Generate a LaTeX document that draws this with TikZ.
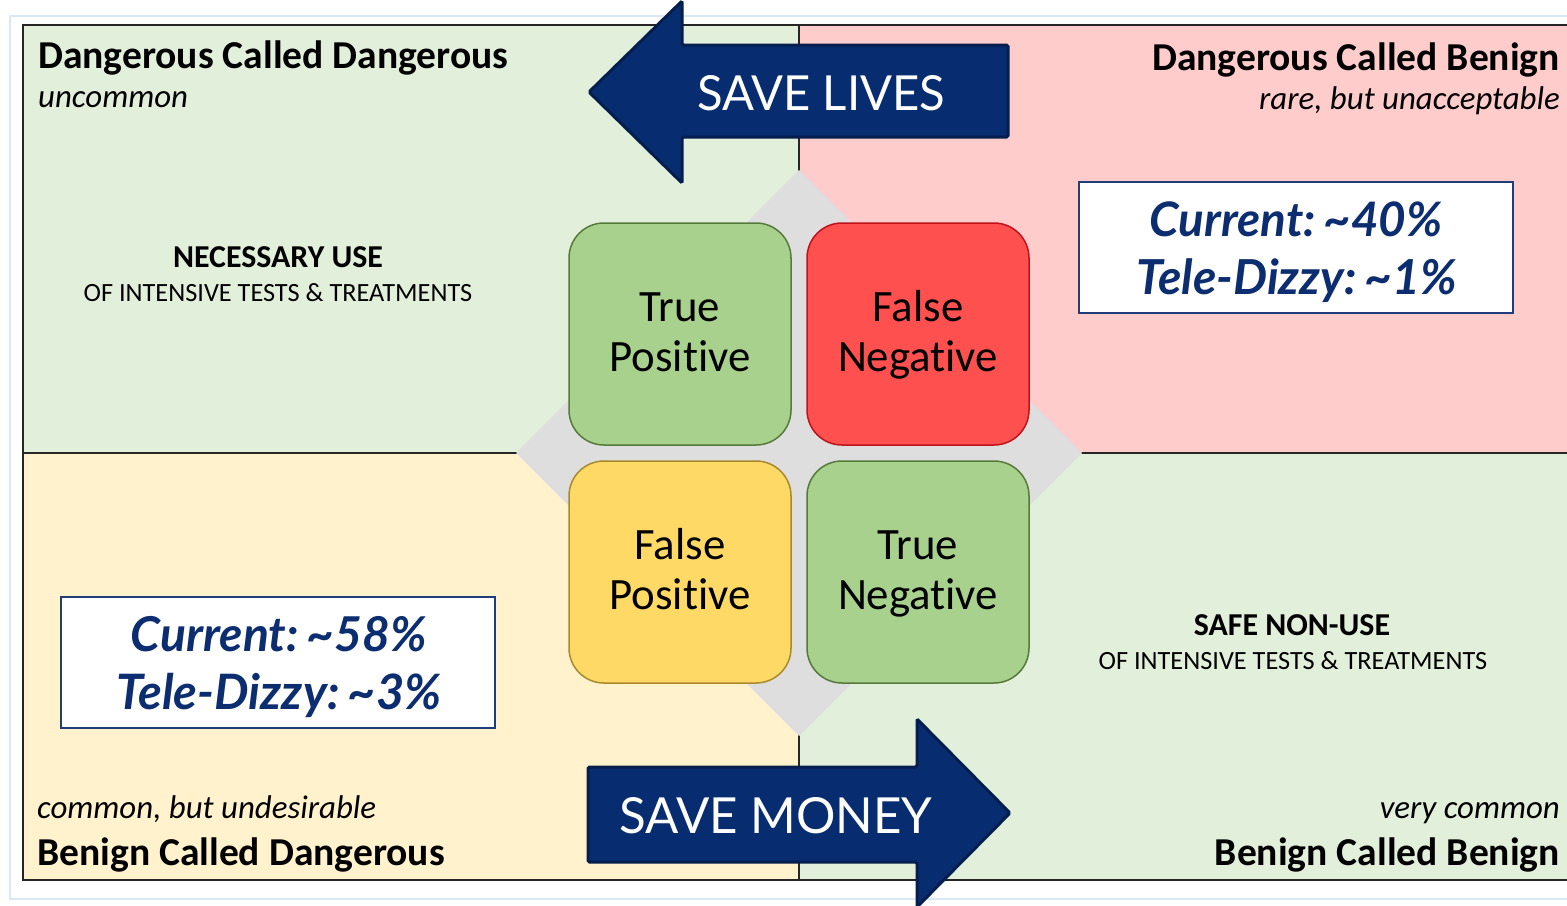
\documentclass[tikz,border=0pt]{standalone}
\usepackage{fontspec}
\setmainfont{Carlito}[Ligatures=NoCommon, RawFeature={-liga;-clig;-calt;-dlig}]
\newfontfamily\gill{Lato}
\usepackage{graphicx}
\newcommand\boxstrut{\rule[-11bp]{0pt}{47bp}}
\definecolor{qgreen}{HTML}{E2EFDA}
\definecolor{qpink}{HTML}{FFCCCC}
\definecolor{qyellow}{HTML}{FFF2CC}
\definecolor{dgray}{HTML}{DEDEDE}
\definecolor{bgreen}{HTML}{A9D18E}
\definecolor{bgreenline}{HTML}{557A3C}
\definecolor{bred}{HTML}{FF5050}
\definecolor{bredline}{HTML}{C0121B}
\definecolor{byellow}{HTML}{FFD966}
\definecolor{byellowline}{HTML}{A88A2A}
\definecolor{navy}{HTML}{072D70}
\definecolor{navyline}{HTML}{041E4D}
\definecolor{pctblue}{HTML}{0C2D6F}
\definecolor{pctline}{HTML}{1F3D7A}
\definecolor{lightblue}{HTML}{DAE8F5}
\begin{document}
\begin{tikzpicture}[x=1bp,y=-1bp,
  qbox/.style={draw, line width=1.5bp, rounded corners=35bp, minimum width=222bp, minimum height=222bp, inner sep=0pt, align=center, font=\fontsize{45}{51}\selectfont},
  pctbox/.style={draw=pctline, fill=white, line width=2bp, minimum width=434bp, minimum height=131bp, inner sep=0pt},
  pcttext/.style={anchor=base, inner sep=0pt, text=pctblue, font=\gill\bfseries\itshape\fontsize{44}{50}\selectfont},
  arrowshape/.style={fill=navy, draw=navyline, line width=3bp, rounded corners=1.5bp},
  arrowtext/.style={anchor=base, inner sep=0pt, text=white, font=\gill\fontsize{48}{54}\selectfont},
  head/.style={inner sep=0pt, font=\bfseries\fontsize{39.7}{44}\selectfont},
  sub/.style={inner sep=0pt, font=\itshape\fontsize{33}{38}\selectfont},
  usehead/.style={inner sep=0pt, anchor=base, font=\bfseries\fontsize{32}{38}\selectfont},
  usesub/.style={inner sep=0pt, anchor=base, font=\fontsize{26.4}{30}\selectfont},
  frameline/.style={line width=1.5bp, draw=black!85}
]
\clip (0,0) rectangle (1567,905);
\fill[white] (0,0) rectangle (1567,905);
\draw[lightblue, line width=2bp] (10,16) rectangle (1600,899);
% quadrants
\fill[qgreen] (23,25) rectangle (799,453);
\fill[qpink] (799,25) rectangle (1600,453);
\fill[qyellow] (23,453) rectangle (799,880);
\fill[qgreen] (799,453) rectangle (1600,880);
\draw[frameline] (1600,25) -- (23,25) -- (23,880) -- (1600,880);
\draw[frameline, line width=1.2bp] (23,453) -- (1600,453);
\draw[frameline, line width=1.2bp] (799,25) -- (799,880);
% diamond
\fill[dgray] (799,170) -- (1082,453) -- (799,736) -- (516,453) -- cycle;
% four boxes
\node[qbox, fill=bgreen, draw=bgreenline] (tp) at (680,334) {\boxstrut True\\\boxstrut Positive};
\node[qbox, fill=bred, draw=bredline] (fn) at (918,334) {\boxstrut False\\\boxstrut Negative};
\node[qbox, fill=byellow, draw=byellowline] (fp) at (680,572) {\boxstrut False\\\boxstrut Positive};
\node[qbox, fill=bgreen, draw=bgreenline] (tn) at (918,572) {\boxstrut True\\\boxstrut Negative};
% corner texts
\node[head, anchor=base west] (ddh) at (38,68) {Dangerous Called Dangerous};
\node[sub, anchor=base west] (dds) at (38,107) {uncommon};
\node[head, anchor=base east] (dbh) at (1560,70) {Dangerous Called Benign};
\node[sub, anchor=base east] (dbs) at (1560,109) {rare, but unacceptable};
\node[sub, anchor=base west] (bds) at (37,818) {common, but undesirable};
\node[head, anchor=base west] (bdh) at (37,865) {Benign Called Dangerous};
\node[sub, anchor=base east] (bbs) at (1560,818) {very common};
\node[head, anchor=base east] (bbh) at (1560,865) {Benign Called Benign};
% use texts
\node[usehead] (nu) at (278,267) {NECESSARY USE};
\node[usesub] (nus) at (278,301) {OF INTENSIVE TESTS \& TREATMENTS};
\node[usehead] (snu) at (1292,635) {SAFE NON-USE};
\node[usesub] (snus) at (1293,669) {OF INTENSIVE TESTS \& TREATMENTS};
% percentage boxes
\node[pctbox] (pcttr) at (1296,247.5) {};
\node[pcttext] (pcttr1) at (1296,236) {\resizebox{293bp}{!}{Current:\,\textasciitilde40\%}};
\node[pcttext] (pcttr2) at (1297,294) {\resizebox{321bp}{!}{Tele-Dizzy:\,\textasciitilde1\%}};
\node[pctbox] (pctbl) at (278,662) {};
\node[pcttext] (pctbl1) at (279,651) {\resizebox{296bp}{!}{Current:\,\textasciitilde58\%}};
\node[pcttext] (pctbl2) at (279,709) {\resizebox{325bp}{!}{Tele-Dizzy:\,\textasciitilde3\%}};
% arrows
\draw[arrowshape] (589,92) -- (682,1) -- (682,45) -- (1008,45) -- (1008,137) -- (682,137) -- (682,183) -- cycle;
\node[arrowtext] (lives) at (821,110) {\resizebox{248bp}{35bp}{SAVE LIVES}};
\draw[arrowshape] (588,767) -- (917,767) -- (917,719) -- (1010,813) -- (917,907) -- (917,862) -- (588,862) -- cycle;
\node[arrowtext] (money) at (776,833) {\resizebox{313bp}{36bp}{SAVE MONEY}};
\end{tikzpicture}
\end{document}
